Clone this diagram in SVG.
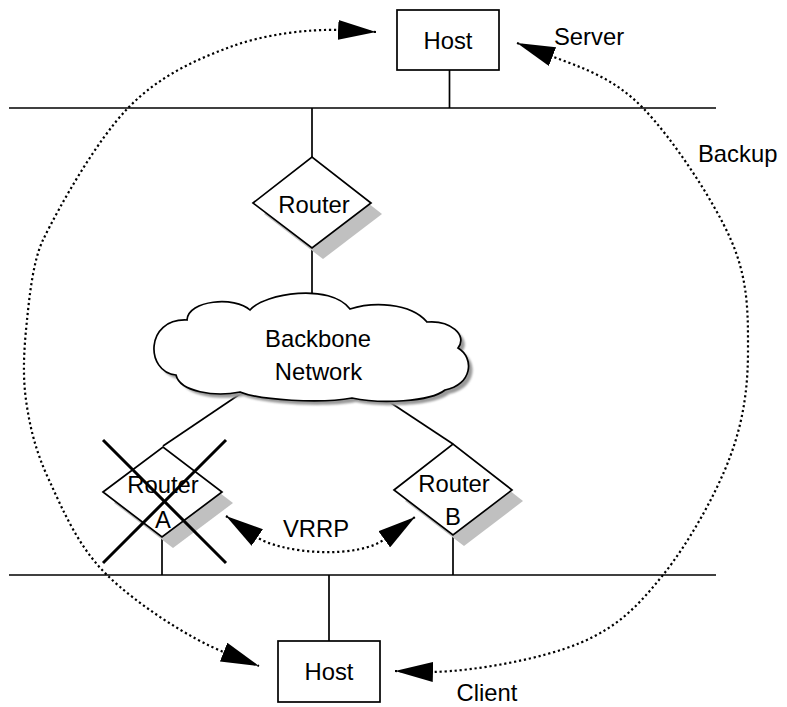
<svg xmlns="http://www.w3.org/2000/svg" width="787" height="707" viewBox="0 0 787 707">
<style>
text{font-family:"Liberation Sans",Arial,sans-serif;font-size:23.8px;fill:#000;text-anchor:middle}
.lbl{text-anchor:start}
.ln{stroke:#000;stroke-width:1.7;fill:none}
.box{fill:#fff;stroke:#000;stroke-width:1.7}
.dia{fill:#fff;stroke:#000;stroke-width:1.7}
.shd{fill:#c0c0c0}
.dot{fill:none;stroke:#000;stroke-width:2.2;stroke-dasharray:2.2 2.8}
.cross{stroke:#000;stroke-width:3;fill:none}
</style>
<defs>
<marker id="ah" markerUnits="userSpaceOnUse" markerWidth="38" markerHeight="20" viewBox="0 0 38 20" refX="38" refY="10" orient="auto-start-reverse">
<path d="M0,0 L38,10 L0,20 Z" fill="#000"/>
</marker>
<filter id="blur" x="-10%" y="-10%" width="120%" height="120%"><feGaussianBlur stdDeviation="1.2"/></filter>
</defs>
<g id="lan-top"><line class="ln" x1="9" y1="108" x2="716" y2="108"/></g>
<g id="lan-bottom"><line class="ln" x1="9" y1="575" x2="716" y2="575"/></g>
<g id="connectors">
<line class="ln" x1="449.5" y1="70" x2="449.5" y2="108"/>
<line class="ln" x1="312" y1="108" x2="312" y2="157"/>
<line class="ln" x1="312" y1="248" x2="312" y2="293"/>
<line class="ln" x1="243" y1="392" x2="163" y2="446"/>
<line class="ln" x1="388" y1="401" x2="453" y2="444"/>
<line class="ln" x1="162" y1="537" x2="162" y2="575"/>
<line class="ln" x1="453" y1="535" x2="453" y2="575"/>
<line class="ln" x1="329" y1="575" x2="329" y2="641"/>
<path class="dot" marker-start="url(#ah)" marker-end="url(#ah)" d="M376,32 L339,30 C309,29 265,34 230,47 C195,60 159,76 128,108 C97,140 60,205 43,240 C33,261 29.5,296 27,320 C24.2,346.7 22.3,373.3 26,400 C29.7,426.7 35.5,451 49,480 C62.5,509 77.5,546 107,575 C136.5,604 190,639 226,653 L259,666"/>
<path class="dot" marker-start="url(#ah)" marker-end="url(#ah)" d="M517,43 L551,56 C581,67.5 613,77 643,108 C673,139 713.5,200 731,240 C748.5,280 748,314 748,350 C748,386 744,419.5 730,457 C716,494.5 688,544 663,575 C638,606 618,627 580,643 C542,659 475,671 433,672 L395,671"/>
<path class="dot" marker-start="url(#ah)" marker-end="url(#ah)" d="M226,516 L255,536 C280,554 360,560 386,538 L415,517"/>
<text class="lbl" x="554" y="45">Server</text>
<text class="lbl" x="698" y="162">Backup</text>
<text x="316" y="537">VRRP</text>
<text x="487" y="701">Client</text>
</g>
<g id="host-top">
<rect class="box" x="397" y="10" width="102" height="60"/>
<text x="448" y="49">Host</text>
</g>
<g id="router-top">
<polygon class="shd" points="264,214 323,168 382,214 323,259"/>
<polygon class="dia" points="253,203 312,157 371,203 312,248"/>
<text x="314" y="213">Router</text>
</g>
<g id="backbone">
<path transform="translate(4,4)" fill="#9a9a9a" filter="url(#blur)" d="M250,310 C265,293 330,283 350,309 C372,302 410,302 427,322 C450,320 468,335 458,348 C475,358 472,385 445,390 C430,402 380,404 352,398 C320,404 260,400 240,392 C215,397 180,392 176,375 C145,372 145,318 187,320 C188,300 235,296 250,310 Z"/>
<path class="box" d="M250,310 C265,293 330,283 350,309 C372,302 410,302 427,322 C450,320 468,335 458,348 C475,358 472,385 445,390 C430,402 380,404 352,398 C320,404 260,400 240,392 C215,397 180,392 176,375 C145,372 145,318 187,320 C188,300 235,296 250,310 Z"/>
<text x="318" y="347">Backbone</text>
<text x="318.5" y="380">Network</text>
</g>
<g id="router-a">
<polygon class="shd" points="114,503 174,458 233,503 173,548"/>
<polygon class="dia" points="103,492 163,447 222,492 162,537"/>
<text x="163" y="493">Router</text>
<text x="163" y="528">A</text>
<line class="cross" x1="103" y1="440" x2="226" y2="563"/>
<line class="cross" x1="103" y1="563" x2="226" y2="440"/>
</g>
<g id="router-b">
<polygon class="shd" points="405,501 464,455 523,501 464,546"/>
<polygon class="dia" points="394,490 453,444 512,490 453,535"/>
<text x="454" y="492">Router</text>
<text x="453" y="525">B</text>
</g>
<g id="host-bottom">
<rect class="box" x="278" y="641" width="102" height="61"/>
<text x="329" y="680">Host</text>
</g>
</svg>
